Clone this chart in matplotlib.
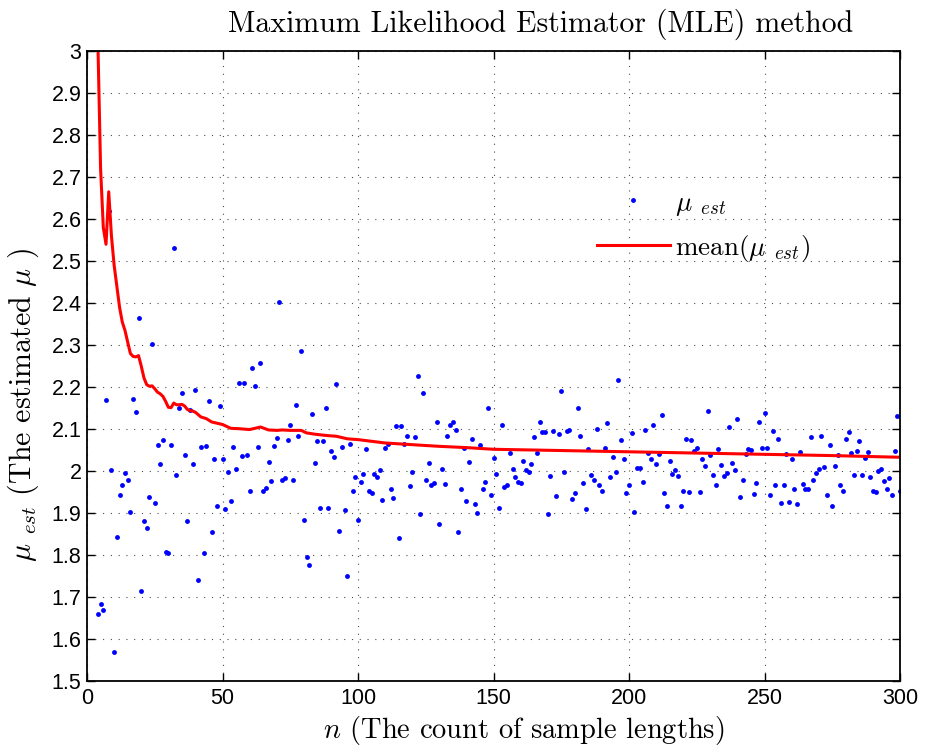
import numpy as np
import matplotlib
matplotlib.use("Agg")
import matplotlib.pyplot as plt

plt.rcParams['mathtext.fontset'] = 'cm'
plt.rcParams['axes.formatter.use_mathtext'] = True

# estimated mu for every sample length n = 4 .. 300
mu_4_50 = [1.659, 1.684, 1.669, 2.169, 2.62, 2.003, 1.569, 1.844, 1.942, 1.967,
           1.995, 1.978, 1.902, 2.172, 2.140, 2.364, 1.715, 1.881, 1.865, 1.938,
           2.302, 1.923, 2.062, 2.017, 2.074, 1.808, 1.804, 2.063, 2.530, 1.991,
           2.151, 2.187, 2.039, 1.881, 2.146, 2.016, 2.192, 1.740, 2.057, 1.804,
           2.060, 2.166, 1.854, 2.028, 1.918, 2.155, 2.030]
mu_51_99 = [1.910, 1.998, 1.930, 2.058, 2.006, 2.210, 2.035, 2.210, 2.039, 1.952,
            2.245, 2.203, 2.057, 2.257, 1.953, 1.961, 2.021, 1.976, 2.060, 2.078,
            2.403, 1.980, 1.983, 2.074, 2.110, 1.980, 2.157, 2.083, 2.285, 1.883,
            1.795, 1.777, 2.137, 2.020, 2.071, 1.912, 2.072, 2.151, 1.913, 2.049,
            2.033, 2.208, 1.857, 2.058, 1.907, 1.750, 2.065, 1.953, 1.986]
mu_100_150 = [1.883, 1.974, 1.993, 2.052, 1.953, 1.948, 1.994, 1.987, 2.002, 1.932,
              2.056, 2.065, 1.957, 1.937, 2.107, 1.841, 2.107, 2.064, 2.083, 1.964,
              1.998, 2.081, 2.226, 1.897, 2.187, 1.979, 2.020, 1.966, 1.971, 2.117,
              1.874, 2.004, 1.970, 2.084, 2.111, 2.118, 2.099, 1.855, 1.957, 2.056,
              1.930, 2.022, 2.077, 1.922, 1.900, 2.062, 1.957, 1.973, 2.151, 1.942,
              2.032]
mu_151_200 = [1.994, 1.912, 2.110, 1.963, 1.966, 2.042, 2.006, 1.986, 1.973, 1.971,
              2.024, 2.003, 1.999, 2.016, 2.081, 2.042, 2.116, 2.094, 2.093, 1.899,
              1.989, 2.095, 1.941, 2.089, 2.191, 1.998, 2.095, 2.099, 1.933, 1.948,
              2.151, 2.084, 1.972, 1.911, 2.052, 1.991, 1.978, 2.100, 1.968, 1.952,
              2.054, 2.115, 1.987, 2.034, 1.997, 2.217, 2.073, 2.030, 1.947, 1.966]
mu_201_250 = [2.091, 1.903, 2.008, 2.008, 1.973, 2.098, 2.044, 2.029, 2.111, 2.018,
              2.041, 2.134, 1.947, 1.918, 2.023, 1.993, 2.003, 1.988, 1.918, 1.953,
              2.077, 1.951, 2.074, 2.047, 2.054, 1.950, 2.028, 2.012, 2.144, 2.039,
              1.991, 1.968, 2.053, 2.014, 1.988, 1.996, 2.105, 2.020, 2.002, 2.123,
              1.938, 1.980, 2.041, 2.053, 2.050, 1.946, 1.972, 2.118, 2.055, 2.138]
mu_251_300 = [2.055, 1.944, 2.095, 1.968, 2.077, 1.925, 1.968, 2.041, 1.926, 2.028,
              1.957, 1.922, 2.046, 1.969, 1.957, 1.957, 2.081, 1.980, 1.996, 2.005,
              2.084, 2.009, 1.944, 2.063, 1.917, 2.012, 2.039, 1.968, 1.953, 2.076,
              2.094, 2.042, 1.991, 2.047, 2.072, 1.991, 2.031, 2.046, 1.986, 1.952,
              1.951, 2.000, 2.006, 1.976, 1.957, 1.984, 1.942, 2.047, 2.131, 1.953]

mu_est = mu_4_50 + mu_51_99 + mu_100_150 + mu_151_200 + mu_201_250 + mu_251_300
n = np.arange(4, 4 + len(mu_est))

# mean of mu_est, read at these sample lengths
mean_n = [4, 5, 6, 7, 8, 9, 10, 11, 12, 13, 14, 15, 16, 17, 18, 19, 20, 21, 22, 23,
          24, 25, 26, 27, 28, 29, 30, 31, 32, 33, 34, 35, 36, 37, 38, 39, 40, 42, 44,
          46, 48, 50, 53, 56, 60, 64, 67, 70, 72, 75, 79, 81, 84, 88, 92, 96, 100,
          110, 120, 130, 140, 150, 175, 200, 225, 250, 275, 300]
mean_mu = [3.02, 2.72, 2.58, 2.54, 2.665, 2.56, 2.49, 2.44, 2.39, 2.355, 2.335,
           2.307, 2.28, 2.273, 2.272, 2.275, 2.25, 2.222, 2.206, 2.202, 2.203, 2.196,
           2.188, 2.184, 2.178, 2.166, 2.152, 2.151, 2.162, 2.158, 2.158, 2.159,
           2.155, 2.147, 2.144, 2.143, 2.140, 2.129, 2.125, 2.117, 2.114, 2.111,
           2.102, 2.101, 2.099, 2.105, 2.098, 2.097, 2.098, 2.097, 2.097, 2.091,
           2.088, 2.085, 2.083, 2.077, 2.075, 2.067, 2.063, 2.059, 2.056, 2.052,
           2.049, 2.046, 2.043, 2.040, 2.037, 2.033]

xticks = [0, 50, 100, 150, 200, 250, 300]
yticks = [1.5, 1.6, 1.7, 1.8, 1.9, 2.0, 2.1, 2.2, 2.3, 2.4, 2.5, 2.6, 2.7, 2.8, 2.9, 3.0]

fig = plt.figure(figsize=(9.26, 7.51), dpi=100)
ax = fig.add_axes([0.094, 0.093, 0.878, 0.839])

ax.plot(n, mu_est, 'o', color=(0, 0, 1), markersize=3.5, markeredgewidth=0,
        label=r'$\mu\ _{est}$')
ax.plot(mean_n, mean_mu, '-', color=(1, 0, 0), linewidth=2.2,
        label=r'$\mathrm{mean}(\mu\ _{est})$')

ax.set_xlim(0, 300)
ax.set_ylim(1.5, 3)
ax.set_xticks(xticks)
ax.set_yticks(yticks)
ax.set_xticklabels([str(t) for t in xticks])
ax.set_yticklabels(['%g' % t for t in yticks])
ax.grid(True, linestyle=(0, (1, 6)), color='0.3', linewidth=0.8)
ax.tick_params(direction='in', top=True, right=True, length=6, width=1.0,
               labelsize=15.5)
ax.tick_params(axis='x', pad=5)
ax.tick_params(axis='y', pad=4)
for lab in ax.get_xticklabels() + ax.get_yticklabels():
    lab.set_fontfamily('Liberation Sans')
for s in ax.spines.values():
    s.set_linewidth(1.3)

ax.text(0.558, 1.018, 'Maximum Likelihood Estimator (MLE) method',
        transform=ax.transAxes, ha='center', va='bottom',
        fontfamily='cmr10', fontsize=21.5)
ax.text(0.537, -0.091, r'$n$ (The count of sample lengths)', transform=ax.transAxes,
        ha='center', va='baseline', fontfamily='cmr10', fontsize=20.5)
ax.text(-0.078, 0.438, r'$\mu\ _{est}$ (The estimated $\mu$ )', transform=ax.transAxes,
        ha='center', va='center', rotation=90, fontfamily='cmr10', fontsize=21.5)

leg = ax.legend(loc='upper left', bbox_to_anchor=(0.627, 0.778), frameon=False,
                numpoints=1, handlelength=2.7, handletextpad=0.2,
                borderpad=0, borderaxespad=0, labelspacing=0.55,
                prop={'family': 'cmr10', 'size': 19.5})

fig.savefig('out.png', dpi=100)
